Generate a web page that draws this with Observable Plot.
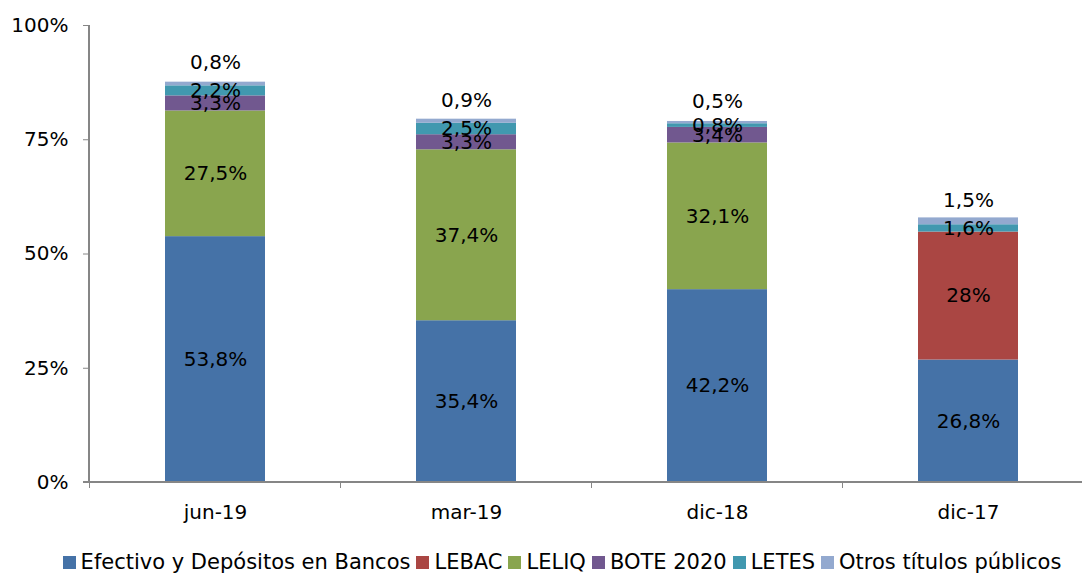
<!DOCTYPE html>
<html><head><meta charset="utf-8">
<script src="https://cdn.jsdelivr.net/npm/d3@7"></script>
<script src="https://cdn.jsdelivr.net/npm/@observablehq/plot@0.6"></script>
<style>
body{margin:0;background:#fff;font-family:"DejaVu Sans",sans-serif;}
#chart svg{display:block;}
#legend{display:flex;justify-content:center;align-items:center;height:28px;font-size:21px;color:#000;padding-left:42px;box-sizing:border-box;width:1082px;white-space:nowrap;}
.item{display:flex;align-items:center;margin:0 3px;}
.sw{width:13px;height:13px;margin-right:5px;flex:none;}
</style></head><body>
<div id="chart"></div>
<div id="legend"></div>
<script>
const categories = ["jun-19", "mar-19", "dic-18", "dic-17"];
const series = ["Efectivo y Depósitos en Bancos", "LEBAC", "LELIQ", "BOTE 2020", "LETES", "Otros títulos públicos"];
const efectivo = [53.8, 35.4, 42.2, 26.8];
const lebac = [0, 0, 0, 28];
const leliq = [27.5, 37.4, 32.1, 0];
const bote = [3.3, 3.3, 3.4, 0];
const letes = [2.2, 2.5, 0.8, 1.6];
const otros = [0.8, 0.9, 0.5, 1.5];
const colors = ["#4572A7", "#AA4643", "#89A54E", "#71588F", "#4198AF", "#93A9CF"];
const yTicks = [0, 25, 50, 75, 100];

const seriesValues = [efectivo, lebac, leliq, bote, letes, otros];
const data = [];
categories.forEach((c, i) => {
  series.forEach((s, j) => data.push({cat: c, series: s, value: seriesValues[j][i]}));
});
const fmt = v => String(v).replace(".", ",") + "%";
const last = series[series.length - 1];

const W = 1082, H = 548;
const chart = Plot.plot({
  width: W, height: H,
  marginLeft: 89, marginRight: 0, marginTop: 25, marginBottom: 66,
  style: {fontFamily: "DejaVu Sans", fontSize: "20px", color: "#000", background: "#fff"},
  x: {domain: categories, range: [89, 1095], paddingInner: 0.6, paddingOuter: 0.3, label: null},
  y: {domain: [0, 100], label: null},
  color: {domain: series, range: colors},
  marks: [
    Plot.barY(data, {x: "cat", y: "value", fill: "series", z: "series", order: series}),
    Plot.text(data, Plot.stackY({x: "cat", y: "value", z: "series", order: series,
      text: d => (d.value > 0 && d.series !== last) ? fmt(d.value) : "",
      fill: "#000", fontSize: 20})),
    Plot.text(data, Plot.stackY({x: "cat", y: "value", z: "series", order: series,
      text: d => (d.series === last && d.value > 0) ? fmt(d.value) : "",
      fill: "#000", fontSize: 20, dy: -21})),
    Plot.axisY(yTicks, {tickSize: 6, tickPadding: 15, tickFormat: d => d + "%", fontSize: 20, label: null, stroke: "#868686", fill: "#000"}),
    Plot.axisX(categories, {tickSize: 0, tickPadding: 22, fontSize: 20, label: null, fill: "#000"})
  ]
});
document.getElementById("chart").appendChild(chart);

// axis lines and boundary ticks from the scales
const xs = chart.scale("x"), ys = chart.scale("y");
const svg = d3.select(chart);
const y0 = ys.apply(0), y100 = ys.apply(100);
const g = svg.append("g").attr("stroke", "#868686").attr("stroke-width", 1.3).attr("shape-rendering", "crispEdges");
const xLeft = xs.range[0];
g.append("line").attr("x1", xLeft).attr("x2", xLeft).attr("y1", y100).attr("y2", y0);
g.append("line").attr("x1", xLeft - 6).attr("x2", W).attr("y1", y0).attr("y2", y0);
const step = xs.step, bw = xs.bandwidth;
categories.forEach(c => {
  const bx = xs.apply(c) - (step - bw) / 2;
  g.append("line").attr("x1", bx).attr("x2", bx).attr("y1", y0).attr("y2", y0 + 6);
});
svg.selectAll('[aria-label="y-axis tick"] path, [aria-label="y-axis tick"] line').attr("stroke", "#868686");

// legend
const lg = document.getElementById("legend");
series.forEach((s, i) => {
  const it = document.createElement("div"); it.className = "item";
  const sw = document.createElement("div"); sw.className = "sw"; sw.style.background = colors[i];
  const tx = document.createElement("span"); tx.textContent = s;
  it.appendChild(sw); it.appendChild(tx); lg.appendChild(it);
});
</script>
</body></html>
